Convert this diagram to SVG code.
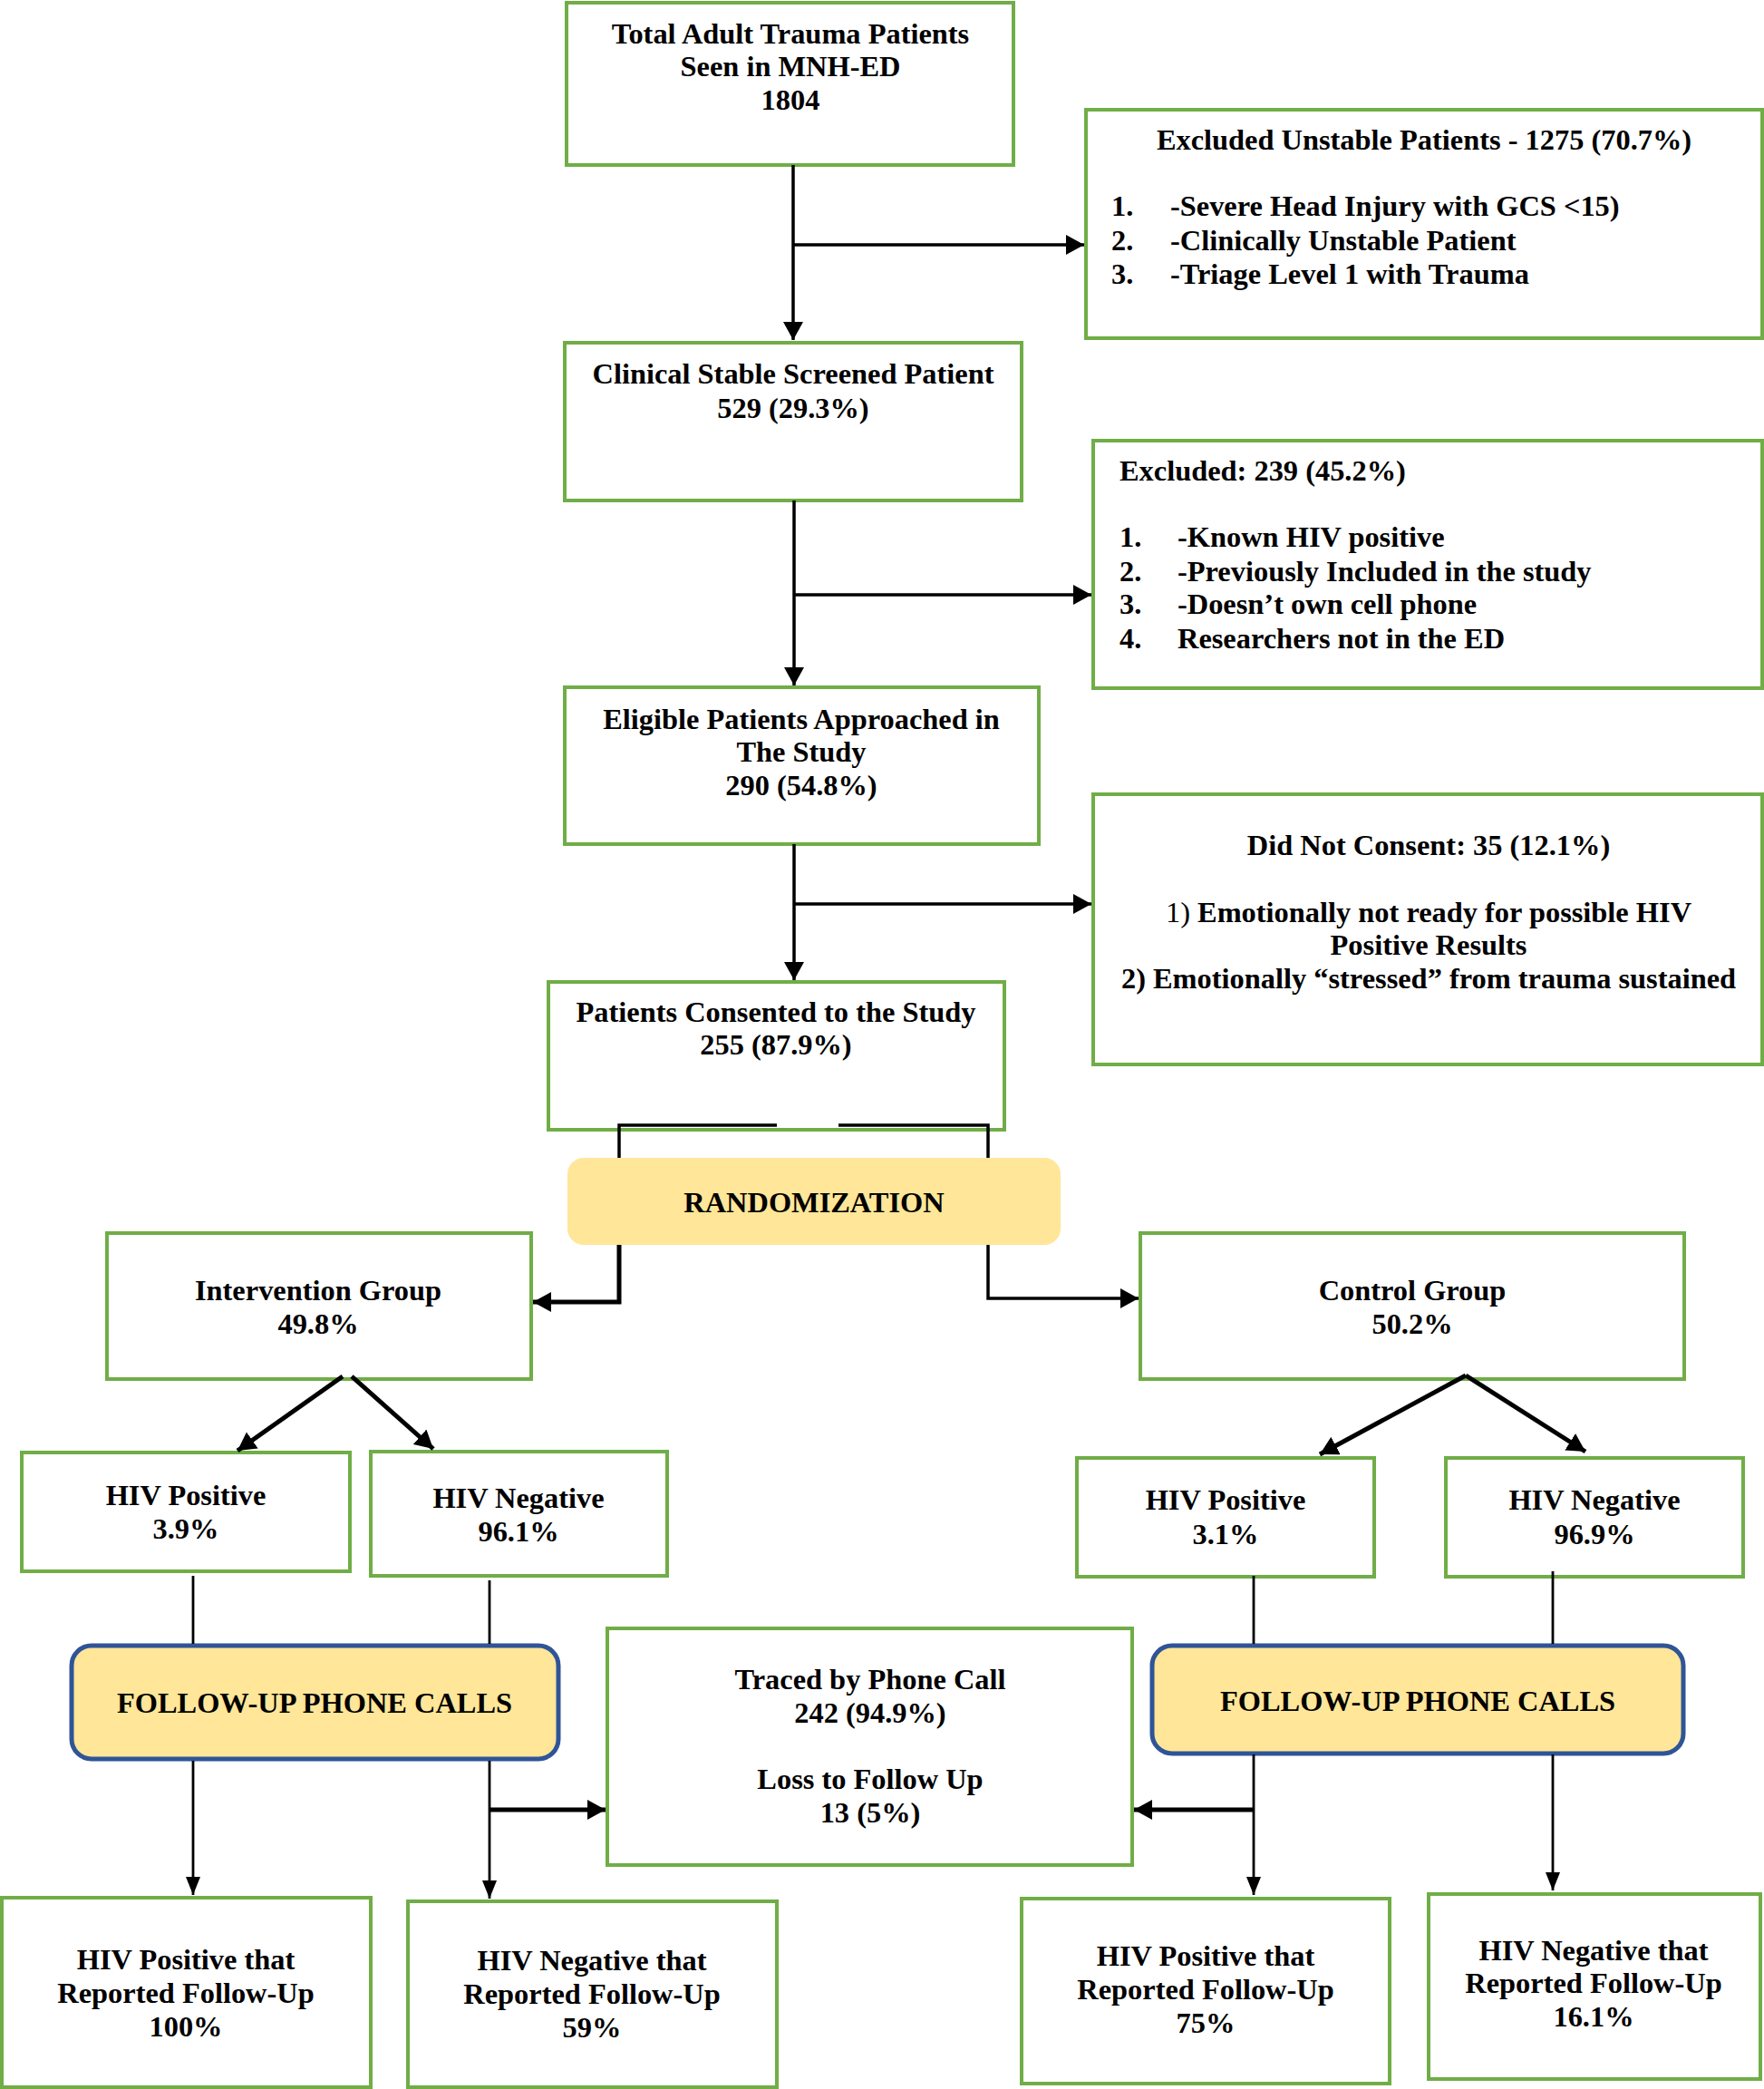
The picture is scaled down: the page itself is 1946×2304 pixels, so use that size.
<svg xmlns="http://www.w3.org/2000/svg" width="1946" height="2304" viewBox="0 0 1946 2304">
<style>
.box{fill:#fff;stroke:#70AD47;stroke-width:4}
.rnd{fill:#FFE699;stroke:none}
.fu{fill:#FFE699;stroke:#2F5597;stroke-width:5}
text{font-family:"Liberation Serif","Times New Roman",serif;font-weight:bold;font-size:32.4px;fill:#000}
.c{text-anchor:middle}
.ln{fill:none;stroke:#000;stroke-width:3.5}
.th{fill:none;stroke:#000;stroke-width:2.8}
.tk{fill:none;stroke:#000;stroke-width:5}
</style>
<defs>
<marker id="ah" markerUnits="userSpaceOnUse" markerWidth="22" markerHeight="22" refX="20" refY="11" orient="auto"><path d="M0,0 L20,11 L0,22 z" fill="#000"/></marker>
<marker id="an" markerUnits="userSpaceOnUse" markerWidth="22" markerHeight="16" refX="20" refY="8" orient="auto"><path d="M0,0 L20,8 L0,16 z" fill="#000"/></marker>
</defs>
<rect width="1946" height="2304" fill="#fff"/>

<g id="total">
<rect class="box" x="625" y="3" width="493" height="179"/>
<text class="c" x="872" y="48">Total Adult Trauma Patients</text>
<text class="c" x="872" y="84">Seen in MNH-ED</text>
<text class="c" x="872" y="121">1804</text>
</g>

<g id="excluded-unstable">
<rect class="box" x="1198" y="121" width="746" height="252"/>
<text class="c" x="1571" y="165">Excluded Unstable Patients - 1275 (70.7%)</text>
<text x="1226" y="238">1.</text><text x="1291" y="238">-Severe Head Injury with GCS &lt;15)</text>
<text x="1226" y="276">2.</text><text x="1291" y="276">-Clinically Unstable Patient</text>
<text x="1226" y="313">3.</text><text x="1291" y="313">-Triage Level 1 with Trauma</text>
</g>

<g id="clinical-stable">
<rect class="box" x="623" y="378" width="504" height="174"/>
<text class="c" x="875" y="423">Clinical Stable Screened Patient</text>
<text class="c" x="875" y="461">529 (29.3%)</text>
</g>

<g id="excluded-239">
<rect class="box" x="1206" y="486" width="738" height="273"/>
<text x="1235" y="530">Excluded: 239 (45.2%)</text>
<text x="1235" y="603">1.</text><text x="1299" y="603">-Known HIV positive</text>
<text x="1235" y="641">2.</text><text x="1299" y="641">-Previously Included in the study</text>
<text x="1235" y="677">3.</text><text x="1299" y="677">-Doesn’t own cell phone</text>
<text x="1235" y="715">4.</text><text x="1299" y="715">Researchers not in the ED</text>
</g>

<g id="eligible">
<rect class="box" x="623" y="758" width="523" height="173"/>
<text class="c" x="884" y="804">Eligible Patients Approached in</text>
<text class="c" x="884" y="840">The Study</text>
<text class="c" x="884" y="877">290 (54.8%)</text>
</g>

<g id="did-not-consent">
<rect class="box" x="1206" y="876" width="738" height="298"/>
<text class="c" x="1576" y="943">Did Not Consent: 35 (12.1%)</text>
<text class="c" x="1576" y="1017"><tspan font-weight="normal">1)</tspan> Emotionally not ready for possible HIV</text>
<text class="c" x="1576" y="1053">Positive Results</text>
<text class="c" x="1576" y="1090">2) Emotionally “stressed” from trauma sustained</text>
</g>

<g id="consented">
<rect class="box" x="605" y="1083" width="503" height="163"/>
<text class="c" x="856" y="1127">Patients Consented to the Study</text>
<text class="c" x="856" y="1163">255 (87.9%)</text>
</g>

<g id="randomization">
<rect class="rnd" x="626" y="1277" width="544" height="96" rx="18"/>
<text class="c" x="898" y="1337">RANDOMIZATION</text>
</g>

<g id="intervention">
<rect class="box" x="118" y="1360" width="468" height="161"/>
<text class="c" x="351" y="1434">Intervention Group</text>
<text class="c" x="351" y="1471">49.8%</text>
</g>

<g id="control">
<rect class="box" x="1258" y="1360" width="600" height="161"/>
<text class="c" x="1558" y="1434">Control Group</text>
<text class="c" x="1558" y="1471">50.2%</text>
</g>

<g id="int-hiv-pos">
<rect class="box" x="24" y="1602" width="362" height="131"/>
<text class="c" x="205" y="1660">HIV Positive</text>
<text class="c" x="205" y="1697">3.9%</text>
</g>

<g id="int-hiv-neg">
<rect class="box" x="409" y="1601" width="327" height="137"/>
<text class="c" x="572" y="1663">HIV Negative</text>
<text class="c" x="572" y="1700">96.1%</text>
</g>

<g id="ctl-hiv-pos">
<rect class="box" x="1188" y="1608" width="328" height="131"/>
<text class="c" x="1352" y="1665">HIV Positive</text>
<text class="c" x="1352" y="1703">3.1%</text>
</g>

<g id="ctl-hiv-neg">
<rect class="box" x="1595" y="1608" width="328" height="131"/>
<text class="c" x="1759" y="1665">HIV Negative</text>
<text class="c" x="1759" y="1703">96.9%</text>
</g>

<g id="followup-left">
<rect class="fu" x="79" y="1815" width="537" height="125" rx="22"/>
<text class="c" x="347" y="1889">FOLLOW-UP PHONE CALLS</text>
</g>

<g id="followup-right">
<rect class="fu" x="1271" y="1815" width="586" height="119" rx="22"/>
<text class="c" x="1564" y="1887">FOLLOW-UP PHONE CALLS</text>
</g>

<g id="traced">
<rect class="box" x="670" y="1796" width="579" height="261"/>
<text class="c" x="960" y="1863">Traced by Phone Call</text>
<text class="c" x="960" y="1900">242 (94.9%)</text>
<text class="c" x="960" y="1973">Loss to Follow Up</text>
<text class="c" x="960" y="2010">13 (5%)</text>
</g>

<g id="res-int-pos">
<rect class="box" x="2" y="2093" width="407" height="209"/>
<text class="c" x="205" y="2172">HIV Positive that</text>
<text class="c" x="205" y="2209">Reported Follow-Up</text>
<text class="c" x="205" y="2246">100%</text>
</g>

<g id="res-int-neg">
<rect class="box" x="450" y="2097" width="407" height="205"/>
<text class="c" x="653" y="2173">HIV Negative that</text>
<text class="c" x="653" y="2210">Reported Follow-Up</text>
<text class="c" x="653" y="2247">59%</text>
</g>

<g id="res-ctl-pos">
<rect class="box" x="1127" y="2094" width="406" height="204"/>
<text class="c" x="1330" y="2168">HIV Positive that</text>
<text class="c" x="1330" y="2205">Reported Follow-Up</text>
<text class="c" x="1330" y="2242">75%</text>
</g>

<g id="res-ctl-neg">
<rect class="box" x="1576" y="2089" width="366" height="204"/>
<text class="c" x="1758" y="2162">HIV Negative that</text>
<text class="c" x="1758" y="2198">Reported Follow-Up</text>
<text class="c" x="1758" y="2235">16.1%</text>
</g>

<g id="connectors">
<path class="ln" d="M875,182 V375" marker-end="url(#ah)"/>
<path class="ln" d="M875,270 H1196" marker-end="url(#ah)"/>
<path class="ln" d="M876,552 V756" marker-end="url(#ah)"/>
<path class="ln" d="M876,656 H1204" marker-end="url(#ah)"/>
<path class="ln" d="M876,931 V1081" marker-end="url(#ah)"/>
<path class="ln" d="M876,997 H1204" marker-end="url(#ah)"/>
<path class="ln" d="M857,1241 H683 V1277"/>
<path class="ln" d="M925,1241 H1090 V1277"/>
<path class="tk" d="M683,1373 V1436 H588" marker-end="url(#ah)"/>
<path class="ln" d="M1090,1373 V1432 H1256" marker-end="url(#ah)"/>
<path class="tk" d="M378,1518 L262,1600" marker-end="url(#ah)"/>
<path class="tk" d="M388,1518 L478,1598" marker-end="url(#ah)"/>
<path class="tk" d="M1617,1517 L1456,1604" marker-end="url(#ah)"/>
<path class="tk" d="M1617,1517 L1749,1601" marker-end="url(#ah)"/>
<path class="th" d="M213,1738 V1813"/>
<path class="th" d="M540,1743 V1813"/>
<path class="th" d="M1383,1738 V1813"/>
<path class="th" d="M1713,1733 V1813"/>
<path class="th" d="M213,1942 V2090" marker-end="url(#an)"/>
<path class="th" d="M540,1942 V2094" marker-end="url(#an)"/>
<path class="th" d="M1383,1935 V2090" marker-end="url(#an)"/>
<path class="th" d="M1713,1935 V2085" marker-end="url(#an)"/>
<path class="tk" d="M540,1996 H668" marker-end="url(#ah)"/>
<path class="tk" d="M1383,1996 H1251" marker-end="url(#ah)"/>
</g>
</svg>
